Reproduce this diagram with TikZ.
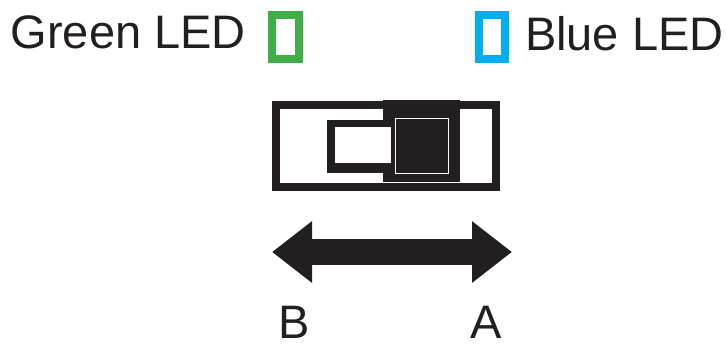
\documentclass[tikz,border=0pt]{standalone}
\usepackage{fontspec}
\setmainfont{Liberation Sans}
\usetikzlibrary{arrows.meta}
\definecolor{ink}{RGB}{35,31,32}
\definecolor{ledgreen}{RGB}{63,174,73}
\definecolor{ledblue}{RGB}{0,174,239}
\tikzset{
  label text/.style={inner sep=0pt, text=ink, font=\fontsize{47}{52}\selectfont},
  led/.style={line width=8pt, draw=#1}
}

\begin{document}
\begin{tikzpicture}[x=1pt, y=-1pt]
            \useasboundingbox (0,0) rectangle (727,349);

            % LED labels and indicators
            \node[label text, anchor=base west] (greenlabel) at (10.5,48.5) {Green LED};
            \draw[led=ledgreen] (272.3,15) rectangle (298.8,59); % green LED
            \draw[led=ledblue] (478.5,15) rectangle (504.5,59);  % blue LED
            \node[label text, anchor=base west] (bluelabel) at (524.8,50) {Blue LED};

            % Switch housing
            \draw[ink, line width=8pt] (276,104.5) rectangle (495.5,186.5);

            % Slider
            \fill[ink] (327.3,120) rectangle (392,173.3);   % left extension
            \fill[ink] (383.3,100) rectangle (460,181.7);   % slider body
            \fill[white] (335,127.3) rectangle (390.7,163.3);
            \draw[white, line width=1.3pt] (395.2,118.5) rectangle (448.2,173.2);
            \fill[ink] (396.7,120) rectangle (446.7,171.7);  % knob

            % Direction arrow
            \coordinate (tipB) at (272,252);
            \coordinate (tipA) at (512,252);
            \draw[ink, line width=26pt, {Triangle[length=40pt, width=59pt]}-{Triangle[length=40pt, width=59pt]}] (tipB) -- (tipA);

            % Positions
            \node[label text, anchor=base] (posB) at (294,338.5) {B};
            \node[label text, anchor=base] (posA) at (485.7,338.5) {A};
\end{tikzpicture}
\end{document}
